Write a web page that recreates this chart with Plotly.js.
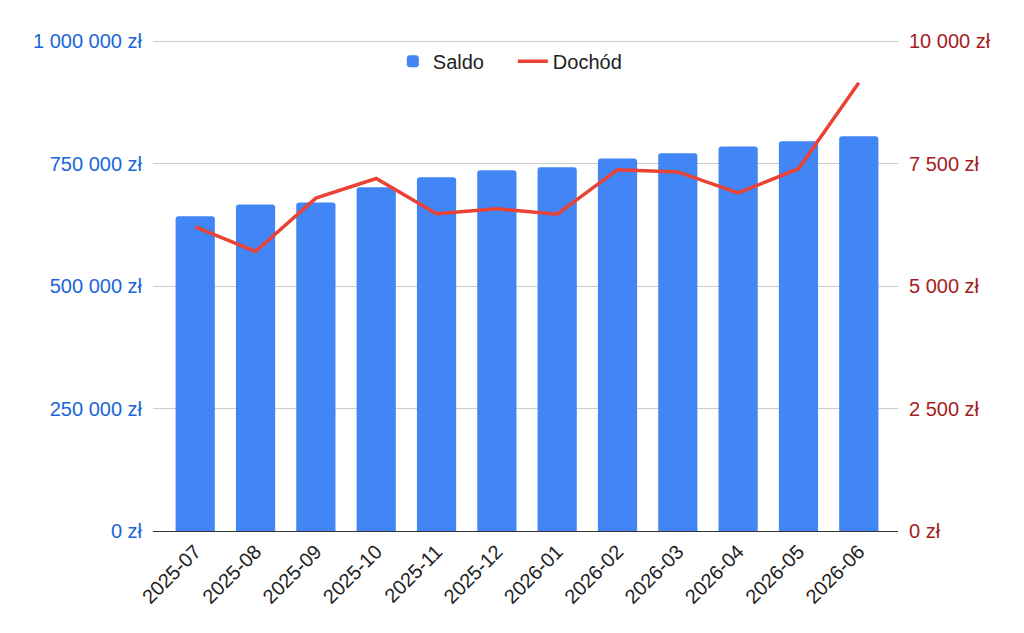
<!DOCTYPE html>
<html>
<head>
<meta charset="utf-8">
<script src="https://cdn.plot.ly/plotly-3.0.1.min.js"></script>
<style>
  html, body { margin: 0; padding: 0; background: #fff; }
  #chart { width: 1024px; height: 633px; }
</style>
</head>
<body>
<div id="chart"></div>
<script>
const months = ['2025-07', '2025-08', '2025-09', '2025-10', '2025-11', '2025-12',
                '2026-01', '2026-02', '2026-03', '2026-04', '2026-05', '2026-06'];
const saldo = [642700, 666700, 670800, 702000, 722500, 736800,
               743000, 760700, 771600, 785300, 796100, 806400];
const dochod = [6210, 5710, 6800, 7200, 6480, 6580,
                6470, 7380, 7335, 6905, 7400, 9155];

const leftTickVals = [0, 250000, 500000, 750000, 1000000];
const leftTickText = ['0 zł', '250 000 zł', '500 000 zł', '750 000 zł', '1 000 000 zł'];
const rightTickVals = [0, 2500, 5000, 7500, 10000];
const rightTickText = ['0 zł', '2 500 zł', '5 000 zł', '7 500 zł', '10 000 zł'];

const fontFamily = '"Liberation Sans", Arial, sans-serif';

const data = [
    {
        type: 'bar',
        name: 'Saldo',
        x: months,
        y: saldo,
        marker: { color: '#4285f4', cornerradius: 3 },
        yaxis: 'y'
    },
    {
        type: 'scatter',
        mode: 'lines',
        name: 'Dochód',
        x: months,
        y: dochod,
        line: { color: '#ea4335', width: 3.5 },
        yaxis: 'y2'
    }
];

const layout = {
    width: 1024,
    height: 633,
    margin: { l: 153, r: 126, t: 39, b: 102 },
    paper_bgcolor: '#fff',
    plot_bgcolor: '#fff',
    font: { family: fontFamily, size: 20, color: '#222' },
    bargap: 0.35,
    showlegend: true,
    legend: {
        orientation: 'h',
        x: 0.483, xanchor: 'center',
        y: 0.955, yanchor: 'middle',
        entrywidth: 75,
        font: { size: 20, color: '#222' },
        bgcolor: 'rgba(0,0,0,0)'
    },
    xaxis: {
        type: 'category',
        range: [-0.7, 11.65],
        tickangle: -45,
        ticks: '',
        showgrid: false,
        showline: true,
        linecolor: '#333',
        linewidth: 1,
        tickfont: { size: 20, color: '#222' },
        fixedrange: true
    },
    yaxis: {
        range: [0, 1005000],
        tickvals: leftTickVals,
        ticktext: leftTickText,
        ticks: '',
        ticklabelstandoff: 10,
        gridcolor: '#cccccc',
        gridwidth: 1,
        zeroline: false,
        tickfont: { size: 20, color: '#1a66d9' }
    },
    yaxis2: {
        overlaying: 'y',
        side: 'right',
        range: [0, 10050],
        tickvals: rightTickVals,
        ticktext: rightTickText,
        ticks: '',
        ticklabelstandoff: 10,
        showgrid: false,
        zeroline: false,
        tickfont: { size: 20, color: '#a61c1c' }
    }
};

Plotly.newPlot('chart', data, layout, { displayModeBar: false, staticPlot: true });
</script>
</body>
</html>
